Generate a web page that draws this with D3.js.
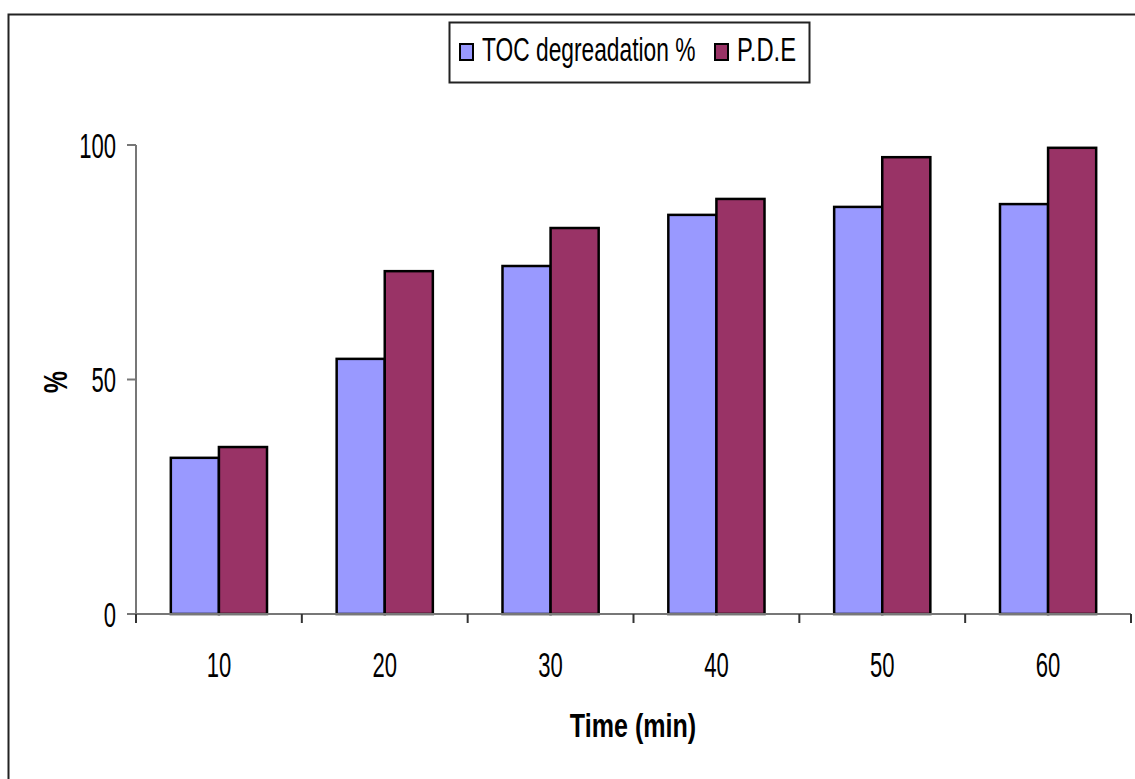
<!DOCTYPE html>
<html><head><meta charset="utf-8">
<script src="https://cdn.jsdelivr.net/npm/d3@7"></script>
<style>body{margin:0;background:#fff}svg{display:block}</style>
</head><body>
<svg id="c" width="1135" height="779"></svg>
<script>
const categories = ["10","20","30","40","50","60"];
const seriesNames = ["TOC degreadation %","P.D.E"];
const tocValues = [33.3, 54.4, 74.2, 85.1, 86.8, 87.4];
const pdeValues = [35.6, 73.1, 82.3, 88.5, 97.4, 99.4];
const yTicks = [0, 50, 100];
const colors = ["#9999FF", "#993366"];

(function(){
const font = "'Liberation Sans',Arial,sans-serif";
const svg = d3.select("#c");
const SX = 0.69;
function label(parent, x, y, txt, opts){
  opts = opts||{};
  const g = parent.append("g").attr("transform",`translate(${x},${y})${opts.rot?" rotate("+opts.rot+")":""} scale(${opts.sx||SX},1)`);
  g.append("text").attr("x",0).attr("y",0).attr("dy",opts.dy||0)
    .attr("text-anchor",opts.anchor||"start").attr("font-family",font)
    .attr("font-size",opts.size||33).attr("font-weight",opts.bold?"bold":"normal")
    .attr("fill","#000").text(txt);
  return g;
}

svg.append("rect").attr("x",8.5).attr("y",14.5).attr("width",1140).attr("height",800)
  .attr("fill","none").attr("stroke","#222").attr("stroke-width",2);

const pLeft=136, pRight=1131, pTop=145, pBottom=614;
const x = d3.scaleBand().domain(categories).range([pLeft,pRight]).paddingInner(0.42).paddingOuter(0.21);
const xs = d3.scaleBand().domain(seriesNames).range([0,x.bandwidth()]);
const y = d3.scaleLinear().domain([0,100]).range([pBottom,pTop]);

const series = [tocValues, pdeValues];
series.forEach((vals,si)=>{
  svg.append("g").selectAll("rect").data(vals).join("rect")
    .attr("x",(d,i)=>x(categories[i])+xs(seriesNames[si]))
    .attr("y",d=>y(d))
    .attr("width",xs.bandwidth())
    .attr("height",d=>pBottom-y(d))
    .attr("fill",colors[si]).attr("stroke","#000").attr("stroke-width",2.5);
});

// y axis
const ya = svg.append("g");
ya.append("line").attr("x1",pLeft).attr("x2",pLeft).attr("y1",pTop).attr("y2",pBottom).attr("stroke","#777").attr("stroke-width",2);
ya.selectAll("line.t").data(yTicks).join("line").attr("class","t")
  .attr("x1",pLeft-9).attr("x2",pLeft).attr("y1",d=>y(d)).attr("y2",d=>y(d)).attr("stroke","#777").attr("stroke-width",2);
yTicks.forEach(t=>label(ya, pLeft-20, y(t), t, {anchor:"end", dy:"0.36em", size:35, sx:0.63}));

// x axis
const xa = svg.append("g");
xa.append("line").attr("x1",pLeft).attr("x2",pRight).attr("y1",pBottom).attr("y2",pBottom).attr("stroke","#777").attr("stroke-width",2);
const bounds = categories.map((c,i)=>pLeft+i*(pRight-pLeft)/categories.length).concat([pRight]);
xa.selectAll("line.t").data(bounds).join("line").attr("class","t")
  .attr("x1",d=>d).attr("x2",d=>d).attr("y1",pBottom).attr("y2",pBottom+9).attr("stroke","#333").attr("stroke-width",2);
categories.forEach(c=>label(xa, x(c)+x.bandwidth()/2, 677, c, {anchor:"middle", size:35, sx:0.63}));

label(svg, 633, 737, "Time (min)", {anchor:"middle", bold:true, size:33, sx:0.76});
label(svg, 67, 382, "%", {anchor:"middle", bold:true, size:33, sx:0.76, rot:-90});

// legend
const lg = svg.append("g");
lg.append("rect").attr("x",449.5).attr("y",22.5).attr("width",360).attr("height",60)
  .attr("fill","#fff").attr("stroke","#222").attr("stroke-width",2);
const legX = [460, 715];
seriesNames.forEach((n,i)=>{
  lg.append("rect").attr("x",legX[i]).attr("y",44).attr("width",13).attr("height",16)
    .attr("fill",colors[i]).attr("stroke","#000").attr("stroke-width",2);
  label(lg, legX[i]+22, 61, n, {size:34, sx: i===0?0.67:0.70});
});
})();
</script>
</body></html>
